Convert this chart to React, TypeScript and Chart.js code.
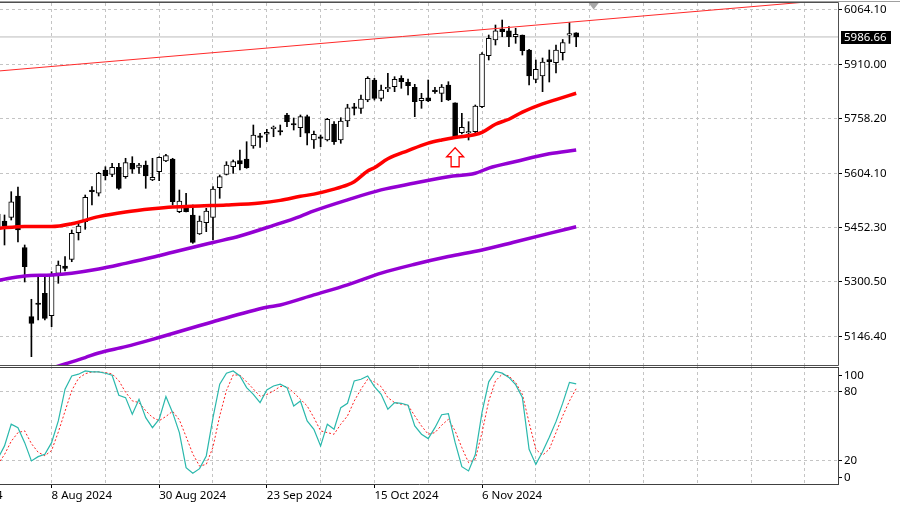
import React, { useEffect, useRef } from 'react';
import { Chart, registerables } from 'chart.js';

Chart.register(...registerables);

// ---------- data (bar index 0 = 1 Aug 2024, first value = bar -1) ----------
const FIRST_BAR = -1;
const OPEN = [5451.1, 5470.7, 5481.1, 5540.8, 5396.5, 5202.5, 5238.1, 5268.1, 5205.3, 5324.1, 5344.6, 5362.8, 5437.9, 5468.8, 5557.6, 5548.4, 5613.7, 5601.6, 5621.2, 5594.9, 5632.5, 5621.2, 5627.7, 5585.7, 5608.9, 5638.9, 5644.5, 5496.8, 5508.0, 5487.6, 5434.3, 5466.0, 5481.1, 5564.1, 5601.6, 5623.0, 5639.8, 5644.5, 5681.0, 5709.0, 5713.8, 5729.5, 5723.0, 5767.9, 5744.0, 5732.3, 5763.1, 5697.8, 5705.3, 5697.8, 5742.6, 5697.8, 5751.0, 5789.4, 5786.6, 5809.9, 5866.0, 5814.6, 5840.7, 5847.2, 5870.7, 5859.5, 5845.5, 5807.9, 5816.3, 5837.9, 5828.7, 5852.0, 5802.3, 5718.3, 5717.4, 5721.0, 5791.1, 5934.1, 5978.1, 6008.1, 6004.1, 5987.3, 5992.1, 5950.0, 5867.9, 5877.2, 5923.4, 5914.5, 5942.5, 5991.3, 5998.5];
const HIGH = [5498.8, 5487.6, 5552.9, 5566.0, 5403.5, 5251.3, 5314.6, 5319.4, 5328.6, 5358.6, 5370.7, 5445.5, 5468.8, 5543.6, 5566.9, 5607.2, 5622.9, 5632.5, 5632.5, 5646.5, 5651.0, 5632.5, 5638.9, 5646.5, 5651.0, 5657.7, 5646.5, 5557.6, 5548.4, 5515.6, 5484.7, 5506.3, 5566.9, 5599.7, 5637.0, 5641.7, 5669.7, 5693.0, 5739.8, 5716.6, 5727.8, 5737.0, 5739.8, 5772.6, 5759.4, 5767.9, 5767.9, 5723.0, 5711.8, 5758.6, 5749.1, 5760.3, 5797.9, 5800.6, 5823.9, 5875.2, 5870.7, 5851.9, 5884.7, 5875.2, 5878.0, 5868.8, 5853.9, 5828.7, 5866.0, 5845.5, 5853.3, 5861.2, 5802.3, 5772.6, 5749.1, 5795.9, 5942.5, 5992.1, 6020.1, 6034.1, 6015.4, 6010.9, 5992.1, 5952.0, 5922.0, 5927.6, 5950.0, 5964.1, 5979.5, 6026.6, 5998.5];
const LOW = [5439.9, 5403.5, 5473.5, 5411.9, 5299.8, 5090.4, 5193.2, 5193.2, 5174.5, 5296.1, 5330.6, 5356.6, 5417.5, 5447.5, 5515.6, 5540.8, 5585.7, 5594.9, 5559.6, 5590.4, 5604.4, 5604.4, 5562.4, 5583.7, 5583.7, 5637.0, 5515.6, 5494.0, 5496.0, 5408.2, 5433.0, 5440.8, 5417.5, 5534.4, 5599.7, 5604.4, 5613.7, 5618.4, 5674.5, 5677.3, 5693.0, 5707.0, 5711.8, 5735.1, 5725.8, 5707.0, 5683.8, 5674.5, 5679.0, 5695.0, 5685.7, 5688.5, 5735.1, 5767.9, 5772.6, 5805.1, 5809.9, 5807.1, 5833.2, 5833.2, 5842.7, 5823.9, 5763.1, 5786.6, 5805.1, 5828.7, 5805.1, 5808.5, 5702.5, 5714.6, 5697.8, 5718.3, 5788.3, 5922.0, 5964.1, 5987.3, 5959.3, 5968.8, 5936.0, 5851.9, 5858.4, 5833.2, 5860.4, 5885.6, 5922.0, 5968.8, 5959.3];
const CLOSE = [5490.4, 5456.7, 5524.8, 5445.5, 5342.6, 5184.0, 5236.7, 5198.0, 5318.0, 5347.4, 5338.1, 5436.2, 5456.7, 5537.2, 5552.9, 5604.4, 5597.7, 5621.2, 5562.4, 5634.2, 5615.7, 5627.7, 5596.9, 5593.2, 5649.3, 5653.8, 5524.8, 5526.8, 5496.8, 5411.0, 5470.7, 5498.8, 5560.4, 5594.9, 5627.7, 5637.0, 5630.5, 5620.1, 5711.8, 5705.3, 5719.4, 5731.4, 5720.2, 5749.1, 5739.8, 5763.1, 5716.6, 5713.8, 5702.5, 5755.8, 5693.0, 5751.0, 5788.3, 5786.6, 5812.7, 5870.7, 5814.6, 5837.9, 5845.5, 5867.9, 5861.2, 5850.0, 5805.1, 5814.6, 5807.1, 5833.2, 5846.4, 5809.9, 5704.2, 5733.4, 5718.3, 5793.1, 5938.8, 5982.8, 6004.1, 6001.3, 5987.3, 5994.0, 5948.1, 5877.2, 5895.9, 5916.4, 5917.3, 5950.0, 5971.1, 5996.3, 5986.66];

const RED_MA_BARS = [-1, 3, 7, 10, 14, 18, 22, 25, 29, 33, 38, 41, 44, 46, 49, 51, 52, 54, 55, 57, 60, 63, 65, 67, 70, 71, 73, 75, 77, 80, 82, 85];
const RED_MA = [5450, 5455.5, 5455, 5463, 5483, 5496, 5505, 5510, 5513, 5515.5, 5521, 5528.5, 5540, 5546, 5560, 5572, 5581, 5611, 5620, 5645, 5668, 5689, 5698, 5705, 5713, 5719, 5742, 5756, 5776, 5799, 5811, 5828.7];
const UPPER_MA_BARS = [-1, 3, 7, 10, 14, 18, 22, 25, 31, 35, 40, 44, 46, 51, 56, 61, 66, 70, 72, 76, 81, 85];
const UPPER_MA = [5304, 5316.6, 5319.4, 5324.5, 5336, 5352, 5369, 5383, 5410.5, 5428.7, 5458.5, 5484, 5499, 5530, 5558, 5577, 5595, 5604.5, 5619, 5637.5, 5659, 5669.7];
const LOWER_MA_BARS = [7, 9, 12, 14, 18, 22, 31, 39, 41, 46, 51, 56, 61, 66, 71, 76, 81, 85];
const LOWER_MA = [5058, 5070, 5088, 5100.8, 5118.5, 5139, 5188.5, 5229, 5235.5, 5263.5, 5291.5, 5324.5, 5349.5, 5371, 5389.5, 5412.7, 5436, 5454.7];

const TREND_BARS = [-1, 124];
const TREND = [5891.0, 6092.3];
const LAST_PRICE = 5986.66;

const STOCH_K = [22, 33, 51.8, 48.8, 35.8, 20.0, 23.7, 25.8, 35.8, 54.6, 82.1, 93.6, 95.1, 97.9, 97.1, 97.1, 95.9, 94.2, 76.9, 74.8, 60.4, 73.4, 57.5, 48.8, 56.1, 75.7, 61.8, 44.5, 14.2, 9.4, 13.3, 24.3, 57.5, 86.4, 95.9, 97.9, 93.6, 83.5, 77.7, 70.5, 81.5, 84.9, 86.4, 83.5, 67.6, 71.9, 54.6, 47.4, 33.0, 51.8, 47.4, 66.1, 69.9, 89.3, 90.7, 93.6, 84.3, 77.7, 64.8, 70.5, 69.9, 68.2, 50.3, 43.1, 39.3, 48.8, 60, 61, 36, 15, 11.3, 25.5, 62, 88.5, 97.5, 96, 92.3, 86, 75, 30, 17, 28, 40.5, 54, 70, 88, 86.7];
const STOCH_D = [17, 25.5, 37, 44.5, 46, 35, 27.5, 24.5, 29, 45, 63, 81, 91.5, 95.5, 97.1, 97.1, 96.5, 95.3, 89.5, 79.5, 72, 70.5, 63.5, 57.7, 54.8, 58.5, 63, 55.5, 41, 26, 15.5, 17, 32, 59, 81, 94.5, 94.3, 88.5, 82.3, 76, 77.5, 80.5, 84.5, 84.3, 79.1, 73.4, 67.6, 57.5, 46.0, 44.5, 43.1, 51.8, 59.0, 71.9, 82.1, 90.7, 88.4, 84.3, 74.8, 70.5, 69.1, 68.2, 59.0, 50.3, 43.1, 44.5, 50.9, 56.1, 46.0, 31.5, 18.5, 21.5, 44.5, 71.9, 89.3, 95.1, 93.6, 87.8, 77.7, 53.2, 30, 25, 30.1, 44.5, 59.0, 71.9, 82.6];

const PRICE_TICKS = [6064.1, 5910.0, 5758.2, 5604.1, 5452.3, 5300.5, 5146.4];
const STOCH_LABELS = ['100', '80', '20', '0'];
const STOCH_LABEL_AT = [93.8, 80, 20, 5.7];
const STOCH_LEVELS = [80, 20];
const GRID_BARS = [-1, 7, 15, 23, 31, 39, 47, 55, 63, 71, 79, 87, 95, 103, 111, 119];
const DATE_BARS = [-9, 7, 23, 39, 55, 71];
const DATE_LABELS = ['17 Jul 2024', '8 Aug 2024', '30 Aug 2024', '23 Sep 2024', '15 Oct 2024', '6 Nov 2024'];
const ARROW_BAR = 67;
const ARROW_PRICE = 5676;
const SHIFT_MARK_BAR = 87.6;

// ---------- view ----------
const X_MIN = -0.67;
const X_MAX = 123.93;
const PRICE_MIN = 5064.3;
const PRICE_MAX = 6081.8;
const STOCH_MAX = 102.2;
const FONT = { family: '"Noto Sans", "DejaVu Sans", sans-serif', size: 11.5 };
const GRID = '#c4c4c4';

const BARS = OPEN.map((_, i) => i + FIRST_BAR);
const pts = (xs: number[], ys: number[]) => xs.map((x, i) => ({ x, y: ys[i] }));

const mainPlugin = {
  id: 'mainDeco',
  afterDatasetsDraw(chart: any) {
    const { ctx, scales } = chart;
    const x = scales.x.getPixelForValue(ARROW_BAR);
    const y = scales.y.getPixelForValue(ARROW_PRICE);
    ctx.save();
    ctx.beginPath();
    ctx.moveTo(x, y);
    ctx.lineTo(x + 8.5, y + 9);
    ctx.lineTo(x + 4, y + 9);
    ctx.lineTo(x + 4, y + 19);
    ctx.lineTo(x - 4, y + 19);
    ctx.lineTo(x - 4, y + 9);
    ctx.lineTo(x - 8.5, y + 9);
    ctx.closePath();
    ctx.fillStyle = '#ffffff';
    ctx.fill();
    ctx.strokeStyle = '#ff0000';
    ctx.lineWidth = 1.3;
    ctx.stroke();
    ctx.restore();
  },
  afterDraw(chart: any) {
    const { ctx, scales, chartArea } = chart;
    ctx.save();
    // frame
    ctx.strokeStyle = '#a0a0a0';
    ctx.lineWidth = 1;
    ctx.beginPath();
    ctx.moveTo(0, 1.5); ctx.lineTo(900, 1.5);
    ctx.stroke();
    ctx.strokeStyle = '#505050';
    ctx.beginPath();
    ctx.moveTo(0, 2.5); ctx.lineTo(chartArea.right + 0.5, 2.5);
    ctx.moveTo(chartArea.right + 0.5, 2.5); ctx.lineTo(chartArea.right + 0.5, 365.5);
    ctx.moveTo(0, 365.5); ctx.lineTo(chartArea.right + 0.5, 365.5);
    ctx.stroke();
    // shift marker
    const sx = scales.x.getPixelForValue(SHIFT_MARK_BAR);
    ctx.fillStyle = '#a8a8a8';
    ctx.beginPath();
    ctx.moveTo(sx - 5, 3); ctx.lineTo(sx + 5, 3); ctx.lineTo(sx, 9.5);
    ctx.closePath();
    ctx.fill();
    // last price box
    const py = scales.y.getPixelForValue(LAST_PRICE);
    ctx.fillStyle = '#000000';
    ctx.fillRect(chartArea.right + 3, Math.round(py) - 6, 50, 13);
    ctx.fillStyle = '#ffffff';
    ctx.font = `${FONT.size}px ${FONT.family}`;
    ctx.textBaseline = 'middle';
    ctx.textAlign = 'left';
    ctx.fillText(LAST_PRICE.toFixed(2), chartArea.right + 6, Math.round(py) + 0.5);
    ctx.restore();
  },
};

const stochPlugin = {
  id: 'stochDeco',
  afterDraw(chart: any) {
    const { ctx, chartArea } = chart;
    ctx.save();
    ctx.strokeStyle = '#404040';
    ctx.lineWidth = 1;
    ctx.beginPath();
    ctx.moveTo(0, 1.5); ctx.lineTo(chartArea.right + 1, 1.5);
    ctx.moveTo(chartArea.right + 0.5, 1.5); ctx.lineTo(chartArea.right + 0.5, chartArea.bottom + 0.5);
    ctx.moveTo(0, chartArea.bottom + 0.5); ctx.lineTo(chartArea.right + 1, chartArea.bottom + 0.5);
    ctx.stroke();
    ctx.restore();
  },
};

function MainChart() {
  const ref = useRef<HTMLCanvasElement>(null);
  useEffect(() => {
    const chart = new Chart(ref.current as HTMLCanvasElement, {
      type: 'bar',
      data: {
        datasets: [
          { type: 'line', data: pts(TREND_BARS, TREND), borderColor: '#ff2a2a', borderWidth: 1, pointRadius: 0, order: 0 } as any,
          { type: 'line', data: pts(RED_MA_BARS, RED_MA), borderColor: '#ff0000', borderWidth: 3.5, pointRadius: 0, cubicInterpolationMode: 'monotone', order: 1 } as any,
          { type: 'line', data: pts(UPPER_MA_BARS, UPPER_MA), borderColor: '#9400d3', borderWidth: 3.5, pointRadius: 0, cubicInterpolationMode: 'monotone', order: 1 } as any,
          { type: 'line', data: pts(LOWER_MA_BARS, LOWER_MA), borderColor: '#9400d3', borderWidth: 3.5, pointRadius: 0, cubicInterpolationMode: 'monotone', order: 1 } as any,
          {
            type: 'bar',
            data: BARS.map((x, i) => ({ x, y: [OPEN[i], CLOSE[i]] })),
            backgroundColor: BARS.map((_, i) => (CLOSE[i] >= OPEN[i] ? '#ffffff' : '#000000')),
            borderColor: '#000000', borderWidth: 1, borderSkipped: false,
            barThickness: 5, grouped: false, minBarLength: 1.5, order: 2,
          } as any,
          {
            type: 'bar',
            data: BARS.map((x, i) => ({ x, y: [LOW[i], HIGH[i]] })),
            backgroundColor: '#000000', borderWidth: 0,
            barThickness: 1, grouped: false, order: 3,
          } as any,
          { type: 'line', data: pts([X_MIN - 1, X_MAX + 1], [LAST_PRICE, LAST_PRICE]), borderColor: '#bcbcbc', borderWidth: 1, pointRadius: 0, order: 5 } as any,
        ],
      },
      options: {
        responsive: false, animation: false, devicePixelRatio: 1, events: [],
        layout: { padding: { top: 3, left: 0, right: 0, bottom: 0 } },
        plugins: { legend: { display: false }, tooltip: { enabled: false } },
        scales: {
          x: {
            type: 'linear', min: X_MIN, max: X_MAX, offset: false,
            afterBuildTicks: (s: any) => { s.ticks = GRID_BARS.map((v) => ({ value: v })); },
            afterFit: (s: any) => { s.height = 0; s.paddingLeft = 0; s.paddingRight = 0; },
            ticks: { display: false },
            grid: { color: GRID, offset: false, drawTicks: false },
            border: { display: false, dash: [3, 3] },
          },
          y: {
            type: 'linear', position: 'right', min: PRICE_MIN, max: PRICE_MAX, beginAtZero: false,
            afterBuildTicks: (s: any) => { s.ticks = PRICE_TICKS.map((v) => ({ value: v })); },
            afterFit: (s: any) => { s.width = 62; s.paddingTop = 0; s.paddingBottom = 0; },
            ticks: { callback: (v: any) => Number(v).toFixed(2), color: '#000000', font: FONT, padding: 2, autoSkip: false },
            grid: { color: GRID, tickColor: '#000000', tickLength: 4, tickBorderDash: [] },
            border: { display: false, dash: [3, 3] },
          },
        },
      } as any,
      plugins: [mainPlugin],
    });
    return () => chart.destroy();
  }, []);
  return <canvas ref={ref} width={900} height={366} style={{ position: 'absolute', left: 0, top: 0, width: 900, height: 366 }} />;
}

function StochChart() {
  const ref = useRef<HTMLCanvasElement>(null);
  useEffect(() => {
    const chart = new Chart(ref.current as HTMLCanvasElement, {
      type: 'line',
      data: {
        datasets: [
          { data: pts(BARS, STOCH_D), borderColor: '#ff2020', borderWidth: 1, borderDash: [2, 2], pointRadius: 0, order: 1 },
          { data: pts(BARS, STOCH_K), borderColor: '#2ab8ac', borderWidth: 1.2, pointRadius: 0, order: 0 },
        ],
      },
      options: {
        responsive: false, animation: false, devicePixelRatio: 1, events: [],
        layout: { padding: { top: 0, left: 0, right: 0, bottom: 0 } },
        plugins: { legend: { display: false }, tooltip: { enabled: false } },
        scales: {
          x: {
            type: 'linear', min: X_MIN, max: X_MAX, offset: false,
            afterBuildTicks: (s: any) => { s.ticks = [-9, ...GRID_BARS].map((v) => ({ value: v })); },
            afterFit: (s: any) => { s.height = 25; s.paddingLeft = 0; s.paddingRight = 0; },
            ticks: {
              autoSkip: false, maxRotation: 0, align: 'start', padding: 1, color: '#000000', font: FONT,
              callback: (v: any) => { const i = DATE_BARS.indexOf(Number(v)); return i >= 0 ? DATE_LABELS[i] : ''; },
            },
            grid: {
              color: GRID, offset: false, tickLength: 4, tickBorderDash: [],
              tickColor: (c: any) => (c.tick && DATE_BARS.includes(c.tick.value) ? '#000000' : 'rgba(0,0,0,0)'),
            },
            border: { display: false, dash: [3, 3] },
          },
          y: {
            type: 'linear', position: 'right', min: 0, max: STOCH_MAX,
            afterBuildTicks: (s: any) => { s.ticks = STOCH_LABEL_AT.map((v) => ({ value: v })); },
            afterFit: (s: any) => { s.width = 62; s.paddingTop = 0; s.paddingBottom = 0; },
            ticks: { callback: (_v: any, i: number) => STOCH_LABELS[i], color: '#000000', font: FONT, padding: 2, autoSkip: false },
            grid: {
              color: (c: any) => (c.tick && STOCH_LEVELS.includes(c.tick.value) ? GRID : 'rgba(0,0,0,0)'),
              tickColor: '#000000', tickLength: 4, tickBorderDash: [],
            },
            border: { display: false, dash: [3, 3] },
          },
        },
      } as any,
      plugins: [stochPlugin],
    });
    return () => chart.destroy();
  }, []);
  return <canvas ref={ref} width={900} height={143} style={{ position: 'absolute', left: 0, top: 366, width: 900, height: 143 }} />;
}

export default function App() {
  return (
    <div style={{ position: 'absolute', left: 0, top: 0, width: 900, height: 509, background: '#ffffff', overflow: 'hidden' }}>
      <MainChart />
      <StochChart />
    </div>
  );
}
